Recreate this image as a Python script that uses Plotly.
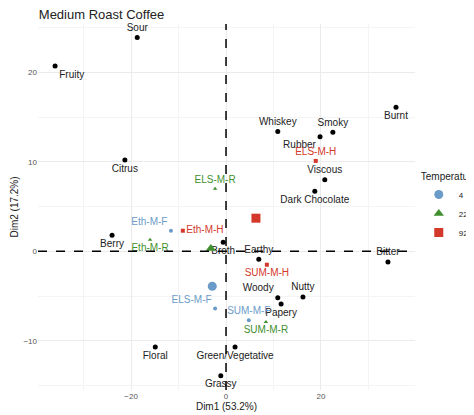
import plotly.graph_objects as go

var_names = ["Sour","Fruity","Citrus","Burnt","Whiskey","Smoky","Rubber","Viscous","Dark Chocolate",
             "Berry","Broth","Earthy","Bitter","Woody","Nutty","Papery","Floral","Green/Vegetative","Grassy"]
var_x = [-18.7,-36.0,-21.3,35.8,10.9,22.5,19.8,20.8,18.7,-24.0,-0.6,6.9,34.1,10.9,16.2,11.6,-14.9,1.9,-1.1]
var_y = [23.9,20.7,10.2,16.1,13.4,13.3,12.8,8.0,6.7,1.8,1.0,-0.9,-1.2,-5.2,-5.1,-5.9,-10.7,-10.7,-13.9]
var_pos = ["top center","bottom right","bottom center","bottom center","top center","top center","bottom left",
           "top center","bottom center","bottom center","bottom center","top center","top center","top left",
           "top center","bottom center","bottom center","bottom center","bottom center"]

temps = ["4 °C","22 °C","92 °C"]
colors = ["#6b9bc9","#3f8f2f","#d4382b"]
symbols = ["circle","triangle-up","square"]
ind_names = [["Eth-M-F","ELS-M-F","SUM-M-F"],["ELS-M-R","Eth-M-R","SUM-M-R"],["ELS-M-H","Eth-M-H","SUM-M-H"]]
ind_x = [[-11.6,-2.3,4.8],[-2.3,-16.0,8.4],[18.9,-9.1,8.6]]
ind_y = [[2.3,-6.4,-7.7],[7.0,1.3,-7.9],[10.1,2.3,-1.5]]
ind_pos = [["top left","top left","top center"],["top center","bottom center","bottom center"],
           ["top center","middle right","bottom center"]]
cen_x = [-2.9,-3.2,6.3]
cen_y = [-3.9,0.3,3.7]

fig = go.Figure()
fig.add_trace(go.Scatter(x=var_x, y=var_y, mode="markers+text", text=var_names, textposition=var_pos,
                         marker=dict(color="black", size=5), textfont=dict(color="#222", size=10),
                         showlegend=False, cliponaxis=False))
for i, t in enumerate(temps):
    fig.add_trace(go.Scatter(x=ind_x[i], y=ind_y[i], mode="markers+text", text=ind_names[i],
                             textposition=ind_pos[i], marker=dict(color=colors[i], size=4, symbol=symbols[i]),
                             textfont=dict(color=colors[i], size=10), showlegend=False))
    fig.add_trace(go.Scatter(x=[cen_x[i]], y=[cen_y[i]], mode="markers", name=t,
                             marker=dict(color=colors[i], size=9, symbol=symbols[i])))

fig.add_hline(y=0, line=dict(color="black", dash="dash", width=1.5))
fig.add_vline(x=0, line=dict(color="black", dash="dash", width=1.5))

fig.update_layout(
    width=474, height=415, template="none", plot_bgcolor="white", paper_bgcolor="white",
    margin=dict(l=30, r=67, t=16, b=33, autoexpand=False),
    font=dict(family="Liberation Sans, Arial", size=11, color="#222"),
    title=dict(text="Medium Roast Coffee", x=0.065, y=0.995, xanchor="left", yanchor="top",
               font=dict(size=13)),
    legend=dict(title=dict(text="Temperature", font=dict(size=10)), x=1.01, y=0.5, yanchor="middle",
                font=dict(size=8)),
    xaxis=dict(range=[-39.6, 39.8], tickvals=[-20, 0, 20], showgrid=True, gridcolor="#ebebeb",
               zeroline=False, ticks="", tickfont=dict(size=8, color="#555"), automargin=False,
               minor=dict(tickvals=[-30, -10, 10, 30], showgrid=True, gridcolor="#f4f4f4"),
               title=dict(text="Dim1 (53.2%)", font=dict(size=10), standoff=2)),
    yaxis=dict(range=[-15.5, 25.4], tickvals=[-10, 0, 10, 20], showgrid=True, gridcolor="#ebebeb",
               zeroline=False, ticks="", tickfont=dict(size=8, color="#555"), automargin=False,
               minor=dict(tickvals=[-15, -5, 5, 15, 25], showgrid=True, gridcolor="#f4f4f4"),
               title=dict(text="Dim2 (17.2%)", font=dict(size=10), standoff=2)),
)
fig.write_html("out.html")
